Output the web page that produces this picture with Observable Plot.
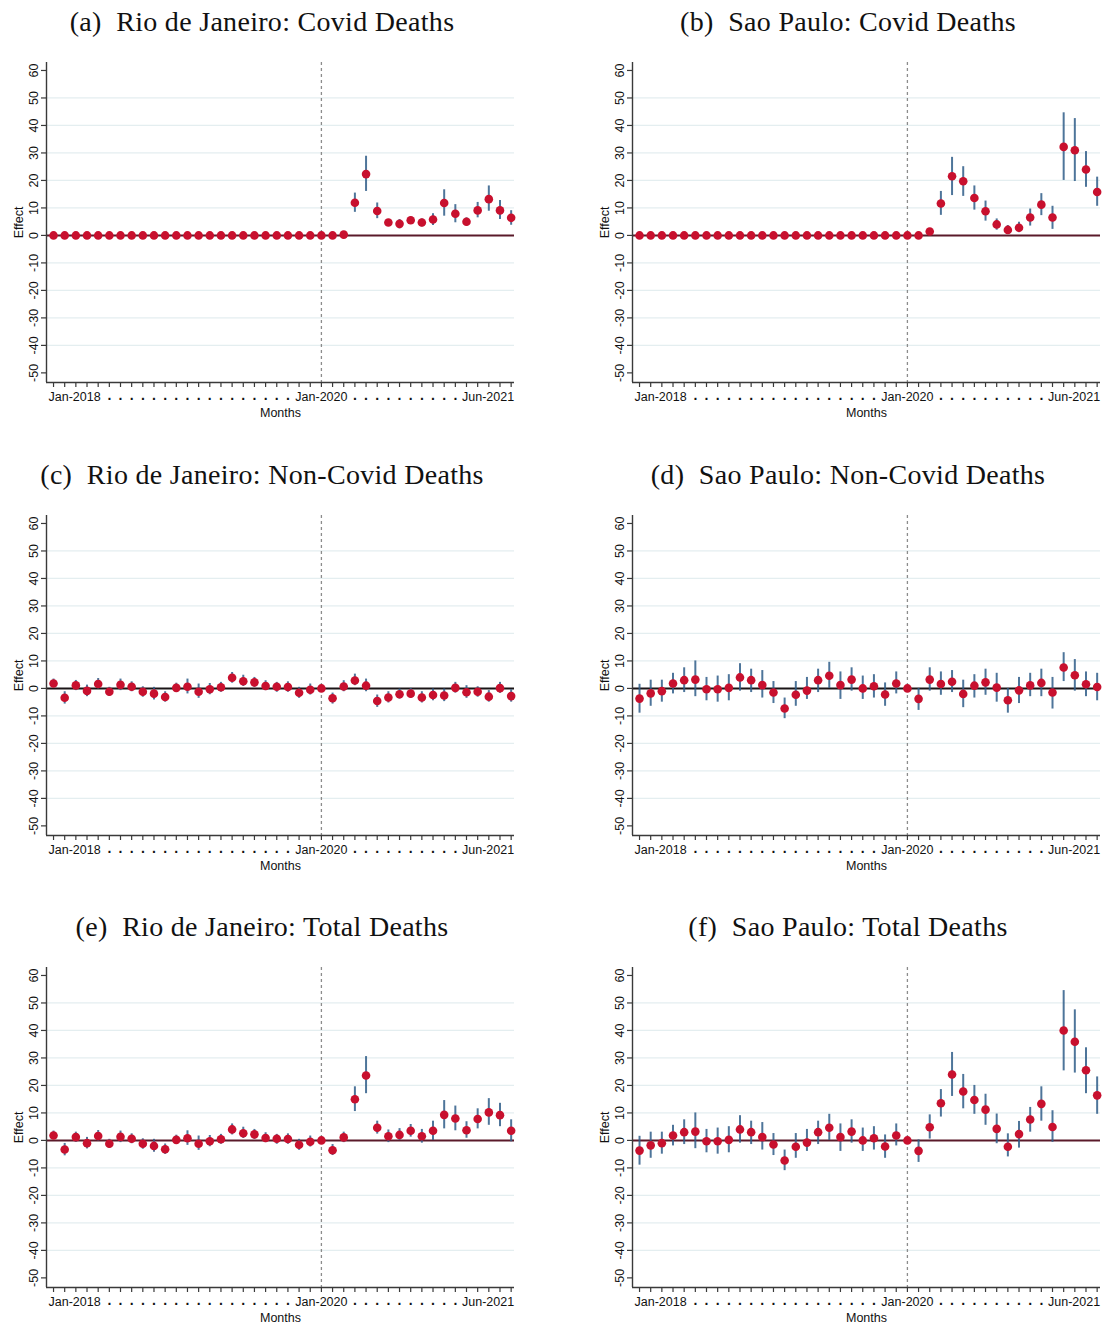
<!DOCTYPE html>
<html>
<head>
<meta charset="utf-8">
<script src="https://cdn.jsdelivr.net/npm/d3@7"></script>
<script src="https://cdn.jsdelivr.net/npm/@observablehq/plot@0.6"></script>
<style>
  html, body { margin: 0; padding: 0; background: #fff; }
  #figure { position: relative; width: 1102px; height: 1324px; background: #fff; overflow: hidden; }
  .title {
    position: absolute; width: 600px; text-align: center; white-space: pre;
    font-family: "Liberation Serif", "DejaVu Serif", serif; font-size: 28px; letter-spacing: 0.3px;
    line-height: 32px; color: #111;
  }
  .panel { position: absolute; }
</style>
</head>
<body>
<div id="figure"></div>
<script>
// Month index 0 = Jan-2018 ... 41 = Jun-2021; index 24 (Jan-2020) is the reference month.
const months = d3.range(42);

// Axis labels along the month axis ("" = label hidden where it would collide).
const monthLabels = [
  "Jan-2018", "", "", "", "", ".", ".", ".", ".", ".", ".", ".", ".", ".", ".", ".", ".", ".", ".", ".", ".", ".", "", "",
  "Jan-2020", "", "", ".", ".", ".", ".", ".", ".", ".", ".", ".", ".", "", "", "", "", "Jun-2021"
];
const yTicks = [-50, -40, -30, -20, -10, 0, 10, 20, 30, 40, 50, 60];
const gridValues = [-40, -30, -20, -10, 10, 20, 30, 40, 50];

// (a) Rio de Janeiro: Covid deaths
const rioCovidEst = [0,0,0,0,0,0,0,0,0,0,0,0,0,0,0,0,0,0,0,0,0,0,0,0, 0, 0, 0.3, 11.9, 22.3, 8.9, 4.7, 4.2, 5.5, 4.7, 5.8, 11.8, 7.9, 5.0, 9.1, 13.2, 9.1, 6.4];
const rioCovidLo  = [0,0,0,0,0,0,0,0,0,0,0,0,0,0,0,0,0,0,0,0,0,0,0,0, 0, 0, 0.1, 8.4, 16.0, 6.1, 4.0, 2.4, 4.0, 3.1, 3.6, 7.0, 4.6, 3.4, 6.4, 8.8, 5.8, 3.7];
const rioCovidHi  = [0,0,0,0,0,0,0,0,0,0,0,0,0,0,0,0,0,0,0,0,0,0,0,0, 0, 0, 0.5, 15.4, 28.8, 11.8, 5.5, 5.8, 6.7, 6.0, 7.9, 16.6, 11.2, 6.4, 12.0, 18.0, 12.7, 9.0];

// (b) Sao Paulo: Covid deaths
const spCovidEst = [0,0,0,0,0,0,0,0,0,0,0,0,0,0,0,0,0,0,0,0,0,0,0,0, 0, 0, 1.4, 11.6, 21.5, 19.7, 13.6, 8.8, 4.0, 2.0, 2.8, 6.5, 11.2, 6.5, 32.2, 31.0, 24.0, 15.8];
const spCovidLo  = [0,0,0,0,0,0,0,0,0,0,0,0,0,0,0,0,0,0,0,0,0,0,0,0, 0, 0, 0.8, 7.3, 14.5, 14.2, 9.2, 5.2, 1.9, 0.7, 1.0, 3.4, 7.2, 2.2, 20.0, 19.6, 17.5, 10.6];
const spCovidHi  = [0,0,0,0,0,0,0,0,0,0,0,0,0,0,0,0,0,0,0,0,0,0,0,0, 0, 0, 2.0, 16.0, 28.4, 25.0, 18.0, 12.5, 6.0, 3.6, 4.8, 9.6, 15.2, 10.6, 44.6, 42.5, 30.5, 21.2];

// (c) Rio de Janeiro: Non-Covid deaths
const rioNonEst = [1.8, -3.4, 1.1, -0.9, 1.6, -1.2, 1.3, 0.6, -1.2, -1.9, -3.1, 0.2, 0.6, -1.2, -0.3, 0.4, 3.9, 2.6, 2.2, 0.9, 0.6, 0.5, -1.6, -0.5, 0, -3.6, 0.7, 2.9, 1.0, -4.6, -3.3, -2.1, -1.9, -3.3, -2.4, -2.6, 0.2, -1.4, -1.2, -3.0, 0.1, -2.8];
const rioNonLo  = [0.4, -5.7, -0.8, -3.0, -0.2, -2.9, -0.8, -1.2, -3.2, -4.2, -5.0, -1.4, -2.0, -3.6, -2.3, -1.4, 1.9, 0.7, 0.4, -0.8, -1.4, -1.4, -3.6, -2.4, 0, -5.7, -1.2, 1.0, -1.2, -6.9, -5.3, -3.9, -3.6, -5.3, -4.5, -4.8, -1.7, -3.6, -3.2, -5.0, -1.8, -5.0];
const rioNonHi  = [3.4, -1.2, 2.9, 1.2, 3.6, 0.4, 3.4, 2.4, 0.6, 0.4, -1.2, 1.9, 3.4, 1.6, 1.8, 2.2, 5.8, 4.8, 4.0, 2.8, 2.2, 2.4, 0.4, 1.6, 0, -1.7, 2.8, 5.2, 3.4, -2.4, -1.2, -0.2, 0.0, -1.2, -0.2, -0.2, 2.2, 1.0, 0.6, -0.8, 2.2, -0.5];

// (d) Sao Paulo: Non-Covid deaths
const spNonEst = [-3.7, -1.8, -1.0, 1.8, 3.0, 3.2, -0.3, -0.3, 0.2, 4.0, 3.0, 1.2, -1.5, -7.3, -2.3, -0.8, 3.0, 4.6, 1.2, 3.2, 0.0, 0.8, -2.2, 1.8, 0, -3.8, 3.2, 1.6, 2.4, -2.0, 1.0, 2.2, 0.3, -4.3, -0.7, 1.1, 2.0, -1.5, 7.6, 4.8, 1.5, 0.5];
const spNonLo  = [-9.0, -6.5, -5.0, -2.0, -1.5, -3.0, -4.5, -5.0, -4.5, -1.0, -1.5, -3.5, -5.5, -11.0, -6.5, -4.0, -1.5, 0.0, -4.0, -1.0, -4.0, -3.5, -6.5, -2.0, 0, -8.0, -1.0, -2.5, -1.5, -7.0, -3.5, -2.5, -5.0, -9.0, -5.5, -3.0, -3.0, -7.5, 2.5, -1.0, -3.0, -4.5];
const spNonHi  = [1.5, 3.0, 3.0, 5.5, 7.5, 10.0, 4.0, 4.5, 5.0, 9.0, 7.0, 6.5, 2.5, -3.5, 2.5, 4.0, 7.0, 9.5, 6.0, 7.5, 4.5, 5.0, 2.0, 6.0, 0, 0.0, 7.5, 6.0, 6.5, 3.0, 5.0, 7.0, 5.5, 0.0, 4.0, 5.5, 7.0, 4.0, 13.0, 10.5, 6.0, 5.5];

// (e) Rio de Janeiro: Total deaths
const rioTotEst = [1.8, -3.3, 1.2, -1.0, 1.6, -1.2, 1.3, 0.6, -1.2, -2.0, -3.2, 0.2, 0.8, -1.2, -0.3, 0.4, 4.0, 2.6, 2.2, 0.9, 0.6, 0.5, -1.6, -0.5, 0, -3.6, 1.1, 15.0, 23.6, 4.6, 1.5, 2.0, 3.5, 1.5, 3.5, 9.3, 8.0, 3.7, 7.8, 10.2, 9.2, 3.5];
const rioTotLo  = [0.4, -5.6, -0.7, -3.1, -0.2, -2.9, -0.8, -1.2, -3.2, -4.3, -5.1, -1.4, -1.8, -3.6, -2.3, -1.4, 2.0, 0.7, 0.4, -0.8, -1.4, -1.4, -3.6, -2.4, 0, -5.5, -0.8, 10.5, 17.0, 2.3, -0.8, 0.0, 1.2, -1.0, 0.0, 4.2, 3.5, 0.8, 4.2, 5.5, 5.0, -0.5];
const rioTotHi  = [3.4, -1.1, 3.0, 1.1, 3.6, 0.4, 3.4, 2.4, 0.6, 0.4, -1.3, 1.9, 3.5, 1.6, 1.8, 2.2, 6.0, 4.8, 4.0, 2.8, 2.2, 2.4, 0.4, 1.6, 0, -1.5, 3.0, 19.5, 30.5, 7.0, 3.8, 4.3, 5.8, 4.0, 7.0, 14.5, 12.5, 6.8, 11.5, 15.2, 13.5, 7.5];

// (f) Sao Paulo: Total deaths
const spTotEst = [-3.7, -1.8, -1.0, 1.8, 3.0, 3.2, -0.3, -0.3, 0.2, 4.0, 3.0, 1.2, -1.5, -7.3, -2.3, -0.8, 3.0, 4.6, 1.2, 3.2, 0.0, 0.8, -2.2, 1.8, 0, -3.8, 4.8, 13.5, 24.0, 17.8, 14.7, 11.2, 4.2, -2.3, 2.3, 7.6, 13.3, 4.9, 40.0, 35.9, 25.5, 16.4];
const spTotLo  = [-9.0, -6.5, -5.0, -2.0, -1.5, -3.0, -4.5, -5.0, -4.5, -1.0, -1.5, -3.5, -5.5, -11.0, -6.5, -4.0, -1.5, 0.0, -4.0, -1.0, -4.0, -3.5, -6.5, -2.0, 0, -8.0, 0.5, 8.5, 16.0, 11.5, 9.5, 5.5, -1.2, -6.0, -2.8, 3.0, 7.0, -0.7, 25.3, 24.5, 17.0, 9.5];
const spTotHi  = [1.5, 3.0, 3.0, 5.5, 7.5, 10.0, 4.0, 4.5, 5.0, 9.0, 7.0, 6.5, 2.5, -3.5, 2.5, 4.0, 7.0, 9.5, 6.0, 7.5, 4.5, 5.0, 2.0, 6.0, 0, 0.2, 9.3, 18.5, 32.0, 24.0, 20.0, 16.8, 9.6, 2.4, 6.9, 12.0, 19.5, 10.8, 54.5, 47.5, 33.7, 23.1];

const panels = [
  {title: "(a)  Rio de Janeiro: Covid Deaths",     est: rioCovidEst, lo: rioCovidLo, hi: rioCovidHi, col: 0, row: 0, zero: "#5a1a2a"},
  {title: "(b)  Sao Paulo: Covid Deaths",          est: spCovidEst,  lo: spCovidLo,  hi: spCovidHi,  col: 1, row: 0, zero: "#5a1a2a"},
  {title: "(c)  Rio de Janeiro: Non-Covid Deaths", est: rioNonEst,   lo: rioNonLo,   hi: rioNonHi,   col: 0, row: 1, zero: "#1a1416"},
  {title: "(d)  Sao Paulo: Non-Covid Deaths",      est: spNonEst,    lo: spNonLo,    hi: spNonHi,    col: 1, row: 1, zero: "#1a1416"},
  {title: "(e)  Rio de Janeiro: Total Deaths",     est: rioTotEst,   lo: rioTotLo,   hi: rioTotHi,   col: 0, row: 2, zero: "#5a1a2a"},
  {title: "(f)  Sao Paulo: Total Deaths",          est: spTotEst,    lo: spTotLo,    hi: spTotHi,    col: 1, row: 2, zero: "#5a1a2a"}
];

const xDomain = [-0.63, 41.3];
const yDomain = [-53.5, 62.9];
const axisColor = "#3a3a3a";
const pointColor = "#c8102e";
const ciColor = "#2f5d88";

function drawPanel(p) {
  const rows = months.map(i => ({m: i, est: p.est[i], lo: p.lo[i], hi: p.hi[i], label: monthLabels[i]}));
  const inner = rows.filter(d => d.m > 0 && d.m < 41);
  const width = p.col === 0 ? 551 : 516;
  const labelText = {frameAnchor: "bottom", lineAnchor: "middle", fill: "#111"};
  return Plot.plot({
    width,
    height: 372,
    marginTop: 12,
    marginBottom: 40,
    marginLeft: 46,
    marginRight: width - 46 - 468,
    style: {fontFamily: "'Liberation Sans', Arial, sans-serif", fontSize: "12.5px", color: "#111", background: "transparent", overflow: "visible"},
    x: {domain: xDomain, axis: null},
    y: {domain: yDomain, axis: null},
    marks: [
      Plot.gridY(gridValues, {stroke: "#e4eef0", strokeOpacity: 1, strokeWidth: 1.2}),
      Plot.ruleX([24], {stroke: "#8c8c8c", strokeWidth: 1.3, strokeDasharray: "3,3"}),
      Plot.ruleY([0], {stroke: p.zero, strokeWidth: 2}),
      Plot.ruleX(rows.filter(d => d.hi > d.lo), {x: "m", y1: "lo", y2: "hi", stroke: ciColor, strokeWidth: 2, strokeOpacity: 0.85}),
      Plot.dot(rows, {x: "m", y: "est", r: 4.3, fill: pointColor, stroke: "none"}),
      // axis lines
      Plot.ruleX([xDomain[0]], {stroke: axisColor, strokeWidth: 1.4}),
      Plot.ruleY([yDomain[0]], {stroke: axisColor, strokeWidth: 1.4}),
      // y ticks and rotated labels
      Plot.axisY(yTicks, {tickSize: 5, tickFormat: () => "", label: null, stroke: axisColor, strokeWidth: 1.2}),
      Plot.text(yTicks, {y: d => d, text: d => String(d), frameAnchor: "left", textAnchor: "middle", lineAnchor: "middle", dx: -13, rotate: -90, fill: "#111"}),
      Plot.text(["Effect"], {frameAnchor: "left", textAnchor: "middle", lineAnchor: "middle", dx: -28, rotate: -90, fill: "#111"}),
      // x ticks and labels
      Plot.axisX(months, {tickSize: 5, tickFormat: () => "", label: null, stroke: axisColor, strokeWidth: 1.2}),
      Plot.text(rows.filter(d => d.m === 0), {...labelText, x: "m", text: "label", dy: 14, dx: -5, textAnchor: "start"}),
      Plot.text(inner.filter(d => d.label !== "." && d.label !== ""), {...labelText, x: "m", text: "label", dy: 14, textAnchor: "middle"}),
      Plot.text(inner.filter(d => d.label === "."), {...labelText, x: "m", text: "label", dy: 13, textAnchor: "middle", fontWeight: "bold", fontSize: 14}),
      Plot.text(rows.filter(d => d.m === 41), {...labelText, x: "m", text: "label", dy: 14, dx: 3, textAnchor: "end"}),
      Plot.text(["Months"], {...labelText, dy: 30, textAnchor: "middle"})
    ]
  });
}

const fig = document.getElementById("figure");
const rowTops = [0, 452.5, 905];
const colLefts = [0, 586];
const titleCenters = [262, 848];

for (const p of panels) {
  const top = rowTops[p.row];
  const t = document.createElement("div");
  t.className = "title";
  t.textContent = p.title;
  t.style.left = (titleCenters[p.col] - 300) + "px";
  t.style.top = (top + 6) + "px";
  fig.appendChild(t);

  const holder = document.createElement("div");
  holder.className = "panel";
  holder.style.left = colLefts[p.col] + "px";
  holder.style.top = (top + 50) + "px";
  holder.appendChild(drawPanel(p));
  fig.appendChild(holder);
}
</script>
</body>
</html>
